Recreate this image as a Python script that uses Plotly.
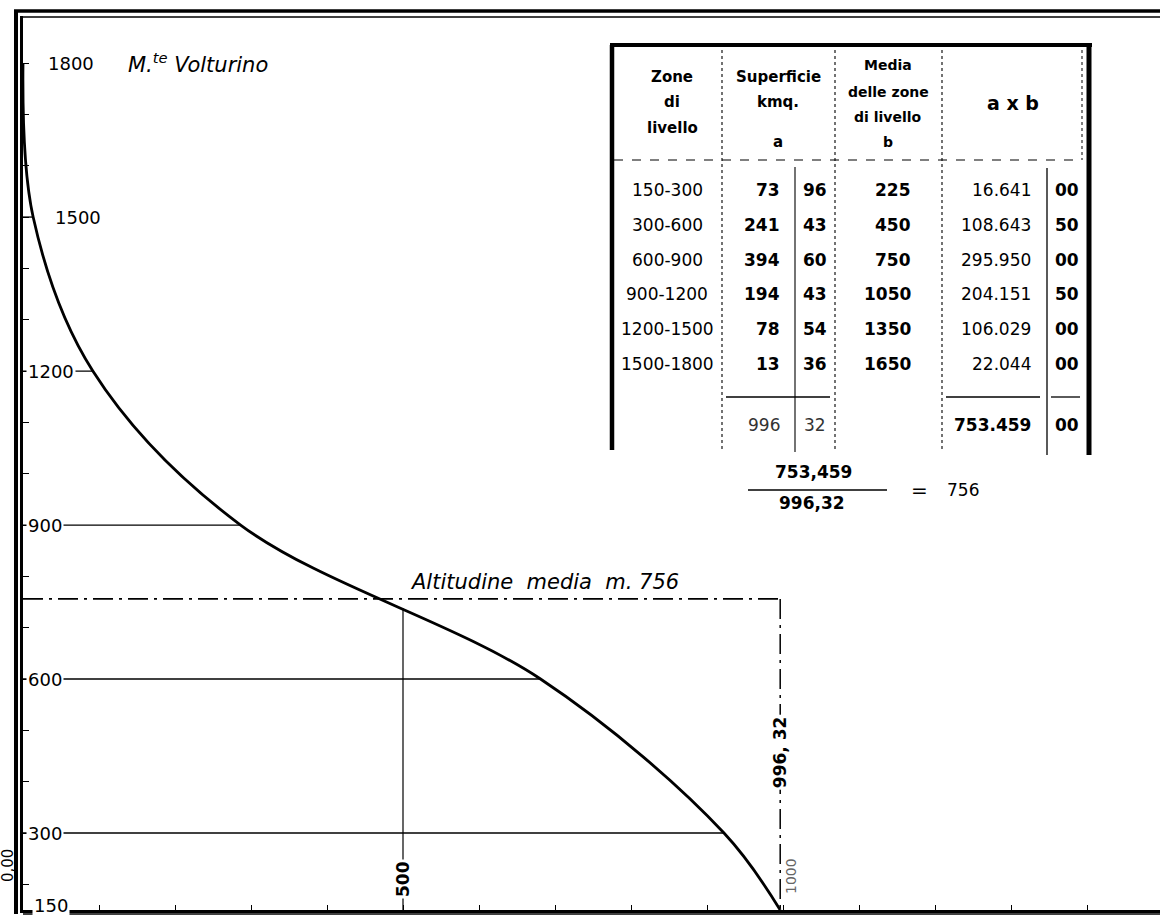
import numpy as np
import plotly.graph_objects as go

# ---------------- data ----------------
zones = ["150-300", "300-600", "600-900", "900-1200", "1200-1500", "1500-1800"]
zone_low = [150, 300, 600, 900, 1200, 1500]
zone_top = 1800
area_kmq = [73.96, 241.43, 394.60, 194.43, 78.54, 13.36]      # a
zone_mean = [225, 450, 750, 1050, 1350, 1650]                  # b
y_label_levels = [1800, 1500, 1200, 900, 600, 300, 150]
x_label_values = [500, 1000]
guide500_top = 738          # altitude where the 500 km2 guide meets the curve
peak_name = "M.<sup>te</sup> Volturino"

# ---------------- derived values ----------------
area_cents = [round(a * 100) for a in area_kmq]
ab_cents = [c * b for c, b in zip(area_cents, zone_mean)]
tot_area_cents = sum(area_cents)
tot_ab_cents = sum(ab_cents)
mean_alt = tot_ab_cents / tot_area_cents
mean_alt_r = int(round(mean_alt))
total_area = tot_area_cents / 100

levels = [zone_top] + zone_low[::-1]
cum_area = np.concatenate([[0.0], np.cumsum(area_kmq[::-1])])


def fmt_int(v):
    return f"{int(v):,}".replace(",", ".")


# ---------------- geometry ----------------
W, H = 1160, 916
L, R, T, B = 23, 0, 16, 6
PW, PH = W - L - R, H - T - B
XS = 0.76            # px per km2
YS = 0.5133          # px per m
y_bottom_alt = 150 - (H - B - 910) / YS
y_top_alt = y_bottom_alt + PH / YS


def px(xp):
    return (xp - L) / PW


def py(yp):
    return (H - B - yp) / PH


FONT = "DejaVu Sans"
shapes = []
ann = []


def pline(x0, y0, x1, y1, w=1.2, dash="solid", color="black"):
    shapes.append(dict(type="line", xref="paper", yref="paper",
                       x0=px(x0), y0=py(y0), x1=px(x1), y1=py(y1),
                       line=dict(color=color, width=w, dash=dash)))


def ptext(x, y, text, size=15, bold=False, xanchor="center", color="black",
          angle=0, bg=None, italic=False):
    t = text
    if bold:
        t = f"<b>{t}</b>"
    if italic:
        t = f"<i>{t}</i>"
    d = dict(xref="paper", yref="paper", x=px(x), y=py(y), text=t,
             showarrow=False, xanchor=xanchor, yanchor="middle",
             textangle=angle, font=dict(family=FONT, size=size, color=color),
             borderpad=0)
    if bg:
        d["bgcolor"] = bg
    ann.append(d)


fig = go.Figure()

# hypsographic curve
fig.add_trace(go.Scatter(x=cum_area, y=levels, mode="lines",
                         line=dict(color="black", width=2.8, shape="spline", smoothing=1.0),
                         hoverinfo="skip"))

# level lines to the curve
for lv, ca in zip(levels[1:-1], cum_area[1:-1]):
    shapes.append(dict(type="line", xref="x", yref="y", x0=0, x1=ca, y0=lv, y1=lv,
                       line=dict(color="black", width=1.3)))

DD = "20px,6px,3px,6px"
# mean altitude dash-dot line and total area line
shapes.append(dict(type="line", xref="x", yref="y", x0=0, x1=total_area,
                   y0=mean_alt_r, y1=mean_alt_r, line=dict(color="black", width=1.7, dash=DD)))
shapes.append(dict(type="line", xref="x", yref="y", x0=total_area, x1=total_area,
                   y0=mean_alt_r, y1=y_bottom_alt, line=dict(color="black", width=1.5, dash=DD)))
# 500 km2 guide
shapes.append(dict(type="line", xref="x", yref="y", x0=x_label_values[0], x1=x_label_values[0],
                   y0=guide500_top, y1=y_bottom_alt, line=dict(color="black", width=1.2)))

# frame (double border)
pline(16, 10, 16, 914, w=4)
pline(14, 11, W, 11, w=3.5)
pline(23, 17, W, 17, w=1.3)
pline(23, 914, W, 914, w=1.5)

# ---------------- table ----------------
pline(610, 45, 1092, 45, w=4)
pline(612, 45, 612, 450, w=4.5)
pline(1089, 45, 1089, 455, w=5)
pline(1082, 50, 1082, 160, w=1, dash="dot")
pline(614, 160, 1082, 160, w=1.2, dash="dash")
for xc in (722, 835, 942):
    pline(xc, 50, xc, 452, w=1.1, dash="dot")
pline(795, 167, 795, 452, w=1.1)
pline(1047, 168, 1047, 455, w=1.3)
pline(726, 397, 830, 397, w=1.3)
pline(946, 397, 1040, 397, w=1.3)
pline(1051, 397, 1080, 397, w=1.3)

HS = 15
for txt, yy in (("Zone", 77), ("di", 102), ("livello", 128)):
    ptext(672, yy, txt, size=HS, bold=True)
for txt, yy in (("Superficie", 77), ("kmq.", 102), ("a", 142)):
    ptext(778, yy, txt, size=HS, bold=True)
for txt, yy in (("Media", 65), ("delle zone", 92), ("di livello", 117), ("b", 142)):
    ptext(888, yy, txt, size=HS - 1, bold=True)
ptext(1013, 103, "a x b", size=19, bold=True)

row_y = [190, 225, 260, 294, 329, 364]
RS = 17
for z, ac, b, abc, yy in zip(zones, area_cents, zone_mean, ab_cents, row_y):
    ptext(667, yy, z, size=RS)
    ptext(781, yy, str(ac // 100), size=RS, bold=True, xanchor="right")
    ptext(815, yy, f"{ac % 100:02d}", size=RS, bold=True)
    ptext(912, yy, str(b), size=RS, bold=True, xanchor="right")
    ptext(1032, yy, fmt_int(abc // 100), size=RS, xanchor="right")
    ptext(1067, yy, f"{abc % 100:02d}", size=RS, bold=True)
ptext(781, 425, str(tot_area_cents // 100), size=RS, xanchor="right", color="#333")
ptext(815, 425, f"{tot_area_cents % 100:02d}", size=RS, color="#333")
ptext(1032, 425, fmt_int(tot_ab_cents // 100), size=RS, bold=True, xanchor="right")
ptext(1067, 425, f"{tot_ab_cents % 100:02d}", size=RS, bold=True)

# fraction
num_txt = f"{tot_ab_cents // 100:,}"
den_txt = f"{total_area:.2f}".replace(".", ",")
ptext(813, 472, num_txt, size=17, bold=True)
pline(748, 490, 887, 490, w=1.3)
ptext(812, 503, den_txt, size=17, bold=True)
ptext(919, 490, "=", size=20)
ptext(963, 490, str(mean_alt_r), size=17)

# ---------------- axis labels ----------------
label_x = {1800: 46, 1500: 53, 1200: 26, 900: 26, 600: 26, 300: 26, 150: 32}
for lv in y_label_levels:
    ann.append(dict(xref="paper", yref="y", x=px(label_x[lv]), y=lv, text=str(lv),
                    showarrow=False, xanchor="left", yanchor="middle",
                    yshift=5 if lv == 150 else 0,
                    font=dict(family=FONT, size=18, color="black"),
                    bgcolor="white", borderpad=1))

ann.append(dict(xref="paper", yref="y", x=px(126), y=zone_top, text=f"<i>{peak_name}</i>",
                showarrow=False, xanchor="left", yanchor="middle",
                font=dict(family=FONT, size=21, color="black")))

ann.append(dict(xref="paper", yref="y", x=px(408), y=mean_alt_r,
                text=f"<i>Altitudine  media  m. {mean_alt_r}</i>",
                showarrow=False, xanchor="left", yanchor="bottom", yshift=3,
                font=dict(family=FONT, size=21, color="black")))

# x labels (rotated)
ann.append(dict(xref="x", yref="paper", x=x_label_values[0], y=py(879), text=f"<b>{x_label_values[0]}</b>",
                showarrow=False, textangle=-90, xanchor="center", yanchor="middle",
                font=dict(family=FONT, size=17, color="black"), bgcolor="white", borderpad=1))
ann.append(dict(xref="x", yref="paper", x=x_label_values[1], y=py(876), xshift=8,
                text=str(x_label_values[1]), showarrow=False, textangle=-90,
                xanchor="center", yanchor="middle",
                font=dict(family=FONT, size=14, color="#666666")))
ann.append(dict(xref="x", yref="paper", x=total_area, y=py(752),
                text=f"<b>{den_txt.replace(',', ', ')}</b>", showarrow=False, textangle=-90,
                xanchor="center", yanchor="middle",
                font=dict(family=FONT, size=17, color="black"), bgcolor="white", borderpad=1))
ann.append(dict(xref="paper", yref="paper", x=px(8), y=py(866), text="0,00",
                showarrow=False, textangle=-90, xanchor="center", yanchor="middle",
                font=dict(family=FONT, size=15, color="black")))

fig.update_layout(
    width=W, height=H,
    margin=dict(l=L, r=R, t=T, b=B, pad=0),
    paper_bgcolor="white", plot_bgcolor="white",
    showlegend=False,
    shapes=shapes, annotations=ann,
    xaxis=dict(range=[0, PW / XS], showgrid=False, zeroline=False, showline=True,
               linecolor="black", linewidth=2.5, ticks="inside", tick0=0, dtick=100,
               ticklen=5, tickwidth=1.2, tickcolor="black", showticklabels=False,
               fixedrange=True),
    yaxis=dict(range=[y_bottom_alt, y_top_alt], showgrid=False, zeroline=False, showline=True,
               linecolor="black", linewidth=2.5, ticks="inside", tick0=0, dtick=100,
               ticklen=6, tickwidth=1.3, tickcolor="black", showticklabels=False,
               fixedrange=True),
)

fig.write_html("out.html", config={"displayModeBar": False},
               post_script="document.body.style.margin='0px';document.body.style.overflow='hidden';")
